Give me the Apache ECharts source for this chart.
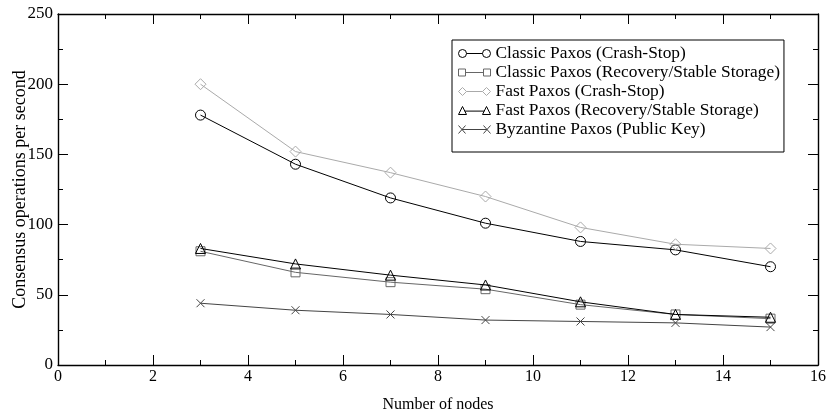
<!DOCTYPE html>
<html>
<head>
<meta charset="utf-8">
<script src="https://cdn.jsdelivr.net/npm/echarts@6/dist/echarts.min.js"></script>
<style>html,body{margin:0;padding:0;background:#fff}#c{width:829px;height:414px}</style>
</head>
<body>
<div id="c"></div>
<script>
var nodes = [3, 5, 7, 9, 11, 13, 15];
var classicCrashStop = [178, 143, 119, 101, 88, 82, 70];
var classicRecovery = [81, 66, 59, 54, 43, 36, 33];
var fastCrashStop = [200, 152, 137, 120, 98, 86, 83];
var fastRecovery = [83, 72, 64, 57, 45, 36, 34];
var byzantinePublicKey = [44, 39, 36, 32, 31, 30, 27];
var seriesNames = [
  'Classic Paxos (Crash-Stop)',
  'Classic Paxos (Recovery/Stable Storage)',
  'Fast Paxos (Crash-Stop)',
  'Fast Paxos (Recovery/Stable Storage)',
  'Byzantine Paxos (Public Key)'
];
var xTicks = [0, 2, 4, 6, 8, 10, 12, 14, 16];
var yTicks = [0, 50, 100, 150, 200, 250];

var FONT = '"Liberation Serif", "DejaVu Serif", serif';
function pairs(ys) { return nodes.map(function (x, i) { return [x, ys[i]]; }); }

var styles = [
  { color: '#000', symbol: 'circle', size: 10,
    icon: 'path://M0,4A4,4 0 1,1 8,4A4,4 0 1,1 0,4ZM8,4L24,4M24,4A4,4 0 1,1 32,4A4,4 0 1,1 24,4Z' },
  { color: '#666', symbol: 'rect', size: 9,
    icon: 'path://M0,0.5L7,0.5L7,7.5L0,7.5ZM7,4L25,4M25,0.5L32,0.5L32,7.5L25,7.5Z' },
  { color: '#aaa', symbol: 'diamond', size: 11,
    icon: 'path://M4,0L8,4L4,8L0,4ZM8,4L24,4M28,0L32,4L28,8L24,4Z' },
  { color: '#000', symbol: 'triangle', size: 10,
    icon: 'path://M4,0L8,8L0,8ZM6.3,4.6L25.7,4.6M28,0L32,8L24,8Z' },
  { color: '#444', symbol: 'path://M0,0L10,10M0,10L10,0', size: 8,
    icon: 'path://M0,0L7,8M0,8L7,0M3.5,4L28.5,4M25,0L32,8M25,8L32,0' }
];
var allData = [classicCrashStop, classicRecovery, fastCrashStop, fastRecovery, byzantinePublicKey];

var series = allData.map(function (d, i) {
  var s = styles[i];
  return {
    name: seriesNames[i],
    type: 'line',
    data: pairs(d),
    symbol: s.symbol,
    symbolSize: s.size,
    symbolKeepAspect: true,
    showSymbol: true,
    lineStyle: { color: s.color, width: 1 },
    itemStyle: { color: 'none', borderColor: s.color, borderWidth: 1 },
    emphasis: { disabled: true },
    z: 2 + i
  };
});

var axisLineStyle = { color: '#000', width: 1.4 };
var chart = echarts.init(document.getElementById('c'), null, { renderer: 'canvas' });
chart.setOption({
  animation: false,
  backgroundColor: '#fff',
  grid: { left: 58, right: 11, top: 14, bottom: 49, containLabel: false, outerBoundsMode: 'none' },
  legend: {
    orient: 'vertical',
    left: 452,
    top: 40,
    padding: [4, 4, 13, 4],
    itemGap: 0,
    itemWidth: 32,
    itemHeight: 8,
    borderColor: '#000',
    borderWidth: 1,
    backgroundColor: '#fff',
    selectedMode: false,
    textStyle: { fontFamily: FONT, fontSize: 17.4, color: '#000', lineHeight: 19 },
    data: seriesNames.map(function (n, i) {
      return {
        name: n,
        icon: styles[i].icon,
        itemStyle: { color: 'none', borderColor: styles[i].color, borderWidth: 1 }
      };
    })
  },
  xAxis: [{
    type: 'value',
    min: xTicks[0], max: xTicks[xTicks.length - 1], interval: 2,
    name: 'Number of nodes',
    nameLocation: 'middle',
    nameGap: 32,
    nameMoveOverlap: false,
    nameTextStyle: { fontFamily: FONT, fontSize: 16, color: '#000' },
    axisLine: { onZero: false, lineStyle: axisLineStyle },
    axisTick: { inside: true, length: 10, lineStyle: { color: '#000', width: 1 } },
    minorTick: { show: true, splitNumber: 2, length: 5, lineStyle: { color: '#000', width: 1 } },
    axisLabel: { fontFamily: FONT, fontSize: 16, color: '#000', margin: 4 },
    splitLine: { show: false }
  }, {
    type: 'value', position: 'top',
    min: xTicks[0], max: xTicks[xTicks.length - 1], interval: 2,
    axisLine: { onZero: false, lineStyle: axisLineStyle },
    axisTick: { inside: true, length: 10, lineStyle: { color: '#000', width: 1 } },
    minorTick: { show: true, splitNumber: 2, length: 5, lineStyle: { color: '#000', width: 1 } },
    axisLabel: { show: false },
    splitLine: { show: false }
  }],
  yAxis: [{
    type: 'value',
    min: yTicks[0], max: yTicks[yTicks.length - 1], interval: 50,
    name: 'Consensus operations per second',
    nameLocation: 'middle',
    nameGap: 29,
    nameMoveOverlap: false,
    nameRotate: 90,
    nameTextStyle: { fontFamily: FONT, fontSize: 18, color: '#000' },
    axisLine: { onZero: false, lineStyle: axisLineStyle },
    axisTick: { inside: true, length: 10, lineStyle: { color: '#000', width: 1 } },
    minorTick: { show: true, splitNumber: 2, length: 5, lineStyle: { color: '#000', width: 1 } },
    axisLabel: { fontFamily: FONT, fontSize: 17, color: '#000', margin: 5 },
    splitLine: { show: false }
  }, {
    type: 'value', position: 'right',
    min: yTicks[0], max: yTicks[yTicks.length - 1], interval: 50,
    axisLine: { onZero: false, lineStyle: axisLineStyle },
    axisTick: { inside: true, length: 10, lineStyle: { color: '#000', width: 1 } },
    minorTick: { show: true, splitNumber: 2, length: 5, lineStyle: { color: '#000', width: 1 } },
    axisLabel: { show: false },
    splitLine: { show: false }
  }],
  series: series
});
</script>
</body>
</html>
